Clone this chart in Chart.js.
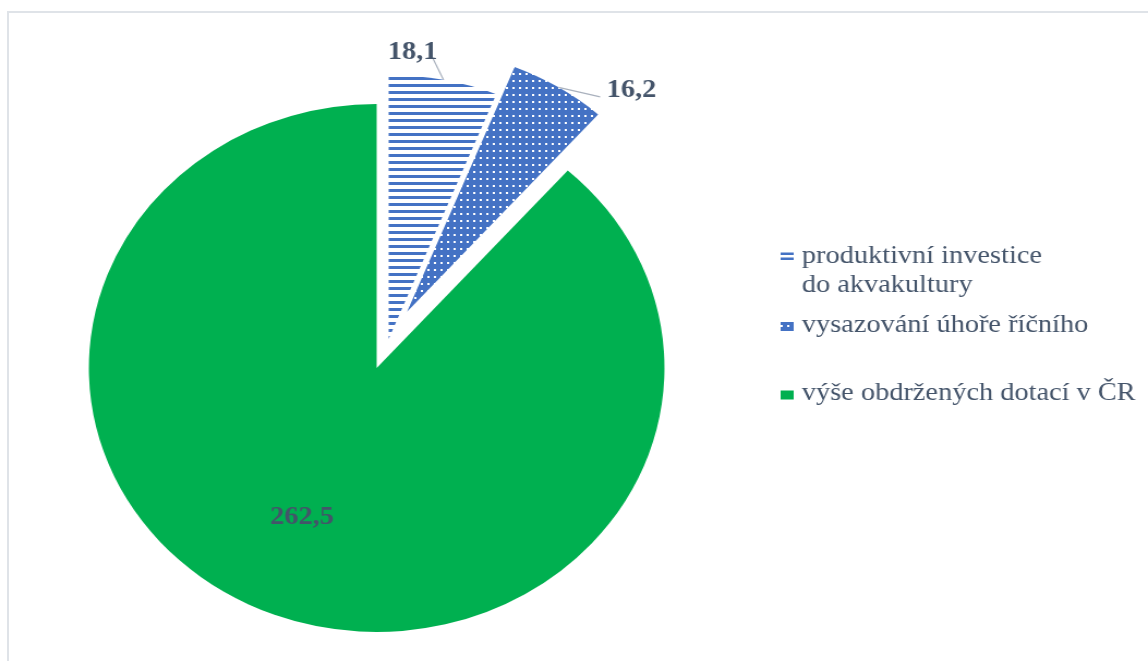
<!DOCTYPE html>
<html>
<head>
<meta charset="utf-8">
<script src="https://cdn.jsdelivr.net/npm/chart.js@4.4.1/dist/chart.umd.min.js"></script>
<style>
    html, body { margin: 0; padding: 0; background: #fff; overflow: hidden; }
    #frame { position: absolute; left: 7px; top: 11px; width: 1200px; height: 700px;
             border-left: 2px solid #dfe3e8; border-top: 2px solid #dfe3e8; }
    /* the original picture is stretched sideways, so the whole chart is too */
    #wrap { position: absolute; left: 0; top: 0; width: 1053px; height: 661px;
            transform: scaleX(1.0902); transform-origin: 0 0; }
</style>
</head>
<body>
<div id="frame"></div>
<div id="wrap"><canvas id="chart_pie"></canvas></div>
<script>
const categories = ["produktivní investice do akvakultury", "vysazování úhoře říčního", "výše obdržených dotací v ČR"];
const legendLines = [["produktivní investice", "do akvakultury"], ["vysazování úhoře říčního"], ["výše obdržených dotací v ČR"]];
const values = [18.1, 16.2, 262.5];

const blue = "#4472C4";
const green = "#00B050";
const textColor = "#44546A";

// pulled-out slices (px) and where their value labels sit (deg from top, radius)
const explode = [0, 32, 31];
const labelSpots = [
    { leader: [8.3, 283], align: "right", dx: 4 },
    { leader: [39.5, 278.5], align: "left", dx: 6 },
    { inside: [204.7, 164] },
];

function makePattern(draw, w, h) {
    const c = document.createElement("canvas");
    c.width = w;
    c.height = h;
    draw(c.getContext("2d"));
    return c.getContext("2d").createPattern(c, "repeat");
}
const stripes = makePattern((x) => {
    x.fillStyle = "#fff"; x.fillRect(0, 0, 6, 7);
    x.fillStyle = blue; x.fillRect(0, 0, 6, 3);
}, 6, 7);
const dots = makePattern((x) => {
    x.fillStyle = blue; x.fillRect(0, 0, 6, 7);
    x.fillStyle = "#fff"; x.fillRect(2, 3, 2, 2);
}, 6, 7);

const fmt = (v) => v.toFixed(1).replace(".", ",");
const polar = (cx, cy, deg, r) => {
    const a = deg * Math.PI / 180;
    return [cx + r * Math.sin(a), cy - r * Math.cos(a)];
};

const explodePlugin = {
    id: "explode",
    beforeDatasetDraw(chart) {
        chart.getDatasetMeta(0).data.forEach((arc, i) => {
            const mid = (arc.startAngle + arc.endAngle) / 2;
            arc.x += Math.cos(mid) * explode[i];
            arc.y += Math.sin(mid) * explode[i];
        });
    },
    afterDatasetDraw(chart) {
        chart.getDatasetMeta(0).data.forEach((arc, i) => {
            const mid = (arc.startAngle + arc.endAngle) / 2;
            arc.x -= Math.cos(mid) * explode[i];
            arc.y -= Math.sin(mid) * explode[i];
        });
    },
    afterDatasetsDraw(chart) {
        const ctx = chart.ctx;
        ctx.save();
        ctx.font = "bold 26px 'Liberation Serif'";
        ctx.fillStyle = textColor;
        chart.getDatasetMeta(0).data.forEach((arc, i) => {
            const mid = (arc.startAngle + arc.endAngle) / 2;
            const cx = arc.x + Math.cos(mid) * explode[i];
            const cy = arc.y + Math.sin(mid) * explode[i];
            const spot = labelSpots[i];
            if (spot.inside) {
                const [lx, ly] = polar(cx, cy, spot.inside[0], spot.inside[1]);
                ctx.textAlign = "center";
                ctx.textBaseline = "middle";
                ctx.fillText(fmt(values[i]), lx, ly);
                return;
            }
            const rim = [cx + Math.cos(mid) * arc.outerRadius, cy + Math.sin(mid) * arc.outerRadius];
            const [ex, ey] = polar(cx, cy, spot.leader[0], spot.leader[1]);
            ctx.strokeStyle = "#A9B1BD";
            ctx.lineWidth = 1.2;
            ctx.beginPath();
            ctx.moveTo(rim[0], rim[1]);
            ctx.lineTo(ex, ey);
            ctx.stroke();
            ctx.textAlign = spot.align;
            ctx.textBaseline = "alphabetic";
            ctx.fillText(fmt(values[i]), ex + spot.dx, ey);
        });
        ctx.restore();
    },
    afterDraw(chart) {
        const ctx = chart.ctx;
        const baselines = [263, 331.5, 400];
        const markX = 716, textX = 735.5;
        ctx.save();
        ctx.font = "26px 'Liberation Serif'";
        ctx.fillStyle = textColor;
        ctx.textAlign = "left";
        ctx.textBaseline = "alphabetic";
        legendLines.forEach((lines, i) => {
            lines.forEach((t, k) => ctx.fillText(t, textX, baselines[i] + k * 29));
        });
        let b = baselines[0];
        ctx.fillStyle = blue;
        ctx.fillRect(markX, b - 10.5, 12, 2.5);
        ctx.fillRect(markX, b - 5.5, 12, 2.5);
        b = baselines[1];
        ctx.fillStyle = dots;
        ctx.fillRect(markX, b - 9.5, 12, 9);
        b = baselines[2];
        ctx.fillStyle = green;
        ctx.fillRect(markX, b - 9.5, 12, 9);
        ctx.restore();
    },
};

const config = {
    type: "pie",
    data: {
        labels: categories,
        datasets: [
            {
                data: values,
                backgroundColor: [stripes, dots, green],
                borderWidth: 0,
            },
        ],
    },
    options: {
        responsive: true,
        maintainAspectRatio: false,
        animation: false,
        events: [],
        radius: 264,
        layout: { padding: { left: 0, right: 340, top: 17, bottom: 0 } },
        plugins: {
            legend: { display: false },
            tooltip: { enabled: false },
        },
    },
    plugins: [explodePlugin],
};

const ctxPie = document.getElementById("chart_pie");
const pieChart = new Chart(ctxPie, config);
</script>
</body>
</html>
